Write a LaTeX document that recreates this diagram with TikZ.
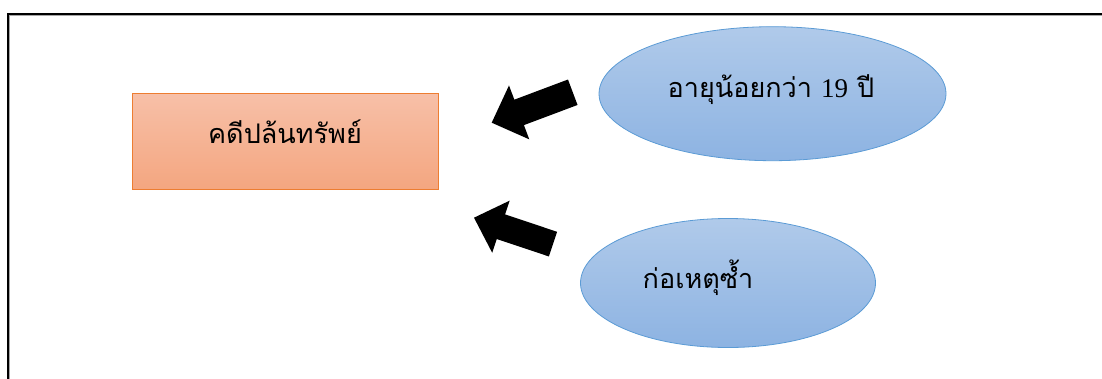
\documentclass[tikz,border=0pt]{standalone}
\usepackage{fontspec}
\newfontfamily\thaifont[Script=Thai]{Loma}
\newfontfamily\numfont{Liberation Serif}
\usetikzlibrary{shapes.geometric}
\definecolor{rectTop}{RGB}{247,192,168}
\definecolor{rectBot}{RGB}{244,166,128}
\definecolor{rectLine}{RGB}{237,125,49}
\definecolor{ellTop}{RGB}{176,202,234}
\definecolor{ellBot}{RGB}{141,179,226}
\definecolor{ellLine}{RGB}{91,155,213}
\tikzset{
  box/.style={rectangle, draw=rectLine, line width=0.8, top color=rectTop, bottom color=rectBot,
    minimum width=306, minimum height=96, inner sep=0},
  oval/.style={ellipse, draw=ellLine, line width=0.8, top color=ellTop, bottom color=ellBot, inner sep=0},
  label/.style={font=\thaifont\fontsize{27}{30}\selectfont, text=black, inner sep=0},
  blockarrow/.style={fill=black, draw=none},
}
\newcommand{\blockarr}[7]{% tip x, tip y, angle, total, headlen, headwidth, shaftwidth
  \begin{scope}[shift={(#1,#2)}, rotate=#3]
    \fill[blockarrow] (0,0) -- (#5,#6/2) -- (#5,#7/2) -- (#4,#7/2) -- (#4,-#7/2) -- (#5,-#7/2) -- (#5,-#6/2) -- cycle;
  \end{scope}}
\begin{document}
\begin{tikzpicture}[x=1pt,y=-1pt]
\useasboundingbox (0,0) rectangle (1102,378);
% frame
\draw[line width=1, gray!70] (9.8,380) -- (9.8,15.8) -- (1104,15.8);
\draw[line width=2.5, black] (8,380) -- (8,14) -- (1104,14);
% box
\node[box] (case) at (285,141) {};
\node[label, anchor=base] (casetxt) at (285,143) {คดีปล้นทรัพย์};
% ellipses
\node[oval, minimum width=347, minimum height=134] (age) at (772.5,93.7) {};
\node[label, anchor=base] (agetxt) at (771,97) {อายุน้อยกว่า {\numfont 19} ปี};
\node[oval, minimum width=295, minimum height=129] (repeat) at (728,283) {};
\node[label, anchor=base] (reptxt) at (698,288) {ก่อเหตุซ้ำ};
% arrows
\blockarr{491.7}{122.7}{20.6}{86.6}{29.3}{57.6}{27.2}
\blockarr{474}{217.7}{-18.5}{83.3}{28.4}{55}{26}
\end{tikzpicture}
\end{document}
